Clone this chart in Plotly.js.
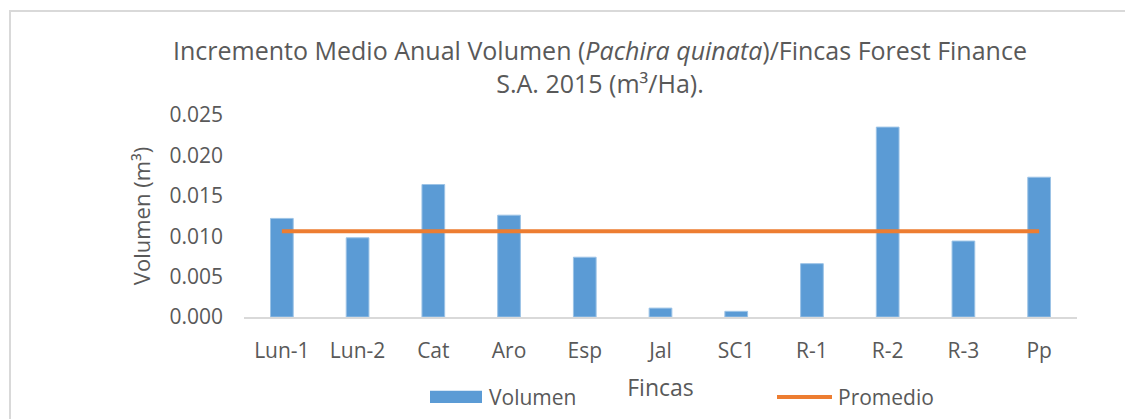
<!DOCTYPE html>
<html>
<head>
<meta charset="utf-8">
<script src="https://cdn.plot.ly/plotly-3.0.1.min.js"></script>
<style>
  html, body { margin: 0; padding: 0; background: #ffffff; overflow: hidden; }
  #chart { width: 1125px; height: 419px; position: absolute; left: 0; top: 0; }
  #frame { position: absolute; left: 9px; top: 10px; width: 1200px; height: 500px;
           border: 2px solid #d9d9d9; pointer-events: none; box-sizing: border-box; }
</style>
</head>
<body>
<div id="chart"></div>
<div id="frame"></div>
<script>
// Data
const fincas = ["Lun-1", "Lun-2", "Cat", "Aro", "Esp", "Jal", "SC1", "R-1", "R-2", "R-3", "Pp"];
const volumen = [0.0122, 0.0098, 0.0164, 0.0126, 0.0074, 0.0011, 0.0007, 0.0066, 0.0235, 0.0094, 0.0173];
const promedio = [0.0106, 0.0106, 0.0106, 0.0106, 0.0106, 0.0106, 0.0106, 0.0106, 0.0106, 0.0106, 0.0106];
const yTicks = [0, 0.005, 0.010, 0.015, 0.020, 0.025];
const yTickText = ["0.000", "0.005", "0.010", "0.015", "0.020", "0.025"];

const FONT = "Open Sans, Noto Sans, sans-serif";
const GRAY = "#595959";
const BLUE = "#5B9BD5";
const ORANGE = "#ED7D31";

const traces = [
  {
    type: "bar", name: "Volumen", x: fincas, y: volumen,
    marker: { color: BLUE, line: { color: "#9cc3e6", width: 1 } },
    showlegend: false, hoverinfo: "x+y"
  },
  {
    type: "scatter", mode: "lines", name: "Promedio", x: fincas, y: promedio,
    line: { color: ORANGE, width: 4 },
    showlegend: false, hoverinfo: "x+y"
  }
];

const layout = {
  width: 1125, height: 419,
  margin: { l: 244, r: 48, t: 115, b: 102 },
  paper_bgcolor: "rgba(0,0,0,0)",
  plot_bgcolor: "rgba(0,0,0,0)",
  font: { family: FONT, color: GRAY, size: 21 },
  bargap: 0.7,
  title: {
    text: "Incremento Medio Anual Volumen (<i>Pachira quinata</i>)/Fincas Forest Finance<br>S.A. 2015 (m³/Ha).",
    font: { family: FONT, size: 25, color: GRAY },
    x: 600 / 1125, xref: "container", xanchor: "center",
    y: 1 - 60 / 419, yref: "container", yanchor: "middle"
  },
  xaxis: {
    type: "category",
    showline: true, linecolor: "#d9d9d9", linewidth: 2,
    showgrid: false, ticks: "", zeroline: false,
    tickfont: { family: FONT, size: 21, color: GRAY },
    ticklabelstandoff: 14,
    title: { text: "Fincas", font: { family: FONT, size: 23, color: GRAY }, standoff: 17 }
  },
  yaxis: {
    range: [0, 0.025],
    tickvals: yTicks, ticktext: yTickText,
    showgrid: false, zeroline: false, showline: false, ticks: "",
    tickfont: { family: FONT, size: 21, color: GRAY },
    ticklabelstandoff: 20,
    title: { text: "Volumen (m³)", font: { family: FONT, size: 22, color: GRAY }, standoff: 12 }
  },
  shapes: [
    { type: "rect", xref: "paper", yref: "paper",
      x0: (430 - 244) / 833, x1: (482 - 244) / 833,
      y0: (317 - 403) / 202, y1: (317 - 390.7) / 202,
      fillcolor: BLUE, line: { width: 0 } },
    { type: "line", xref: "paper", yref: "paper",
      x0: (777 - 244) / 833, x1: (832 - 244) / 833,
      y0: (317 - 397) / 202, y1: (317 - 397) / 202,
      line: { color: ORANGE, width: 4 } }
  ],
  annotations: [
    { text: "Volumen", xref: "paper", yref: "paper",
      x: (487 - 244) / 833, y: (317 - 397) / 202,
      xanchor: "left", yanchor: "middle", showarrow: false,
      font: { family: FONT, size: 21, color: GRAY } },
    { text: "Promedio", xref: "paper", yref: "paper",
      x: (836 - 244) / 833, y: (317 - 397) / 202,
      xanchor: "left", yanchor: "middle", showarrow: false,
      font: { family: FONT, size: 21, color: GRAY } }
  ]
};

Plotly.newPlot("chart", traces, layout, { displayModeBar: false, staticPlot: true });
</script>
</body>
</html>
